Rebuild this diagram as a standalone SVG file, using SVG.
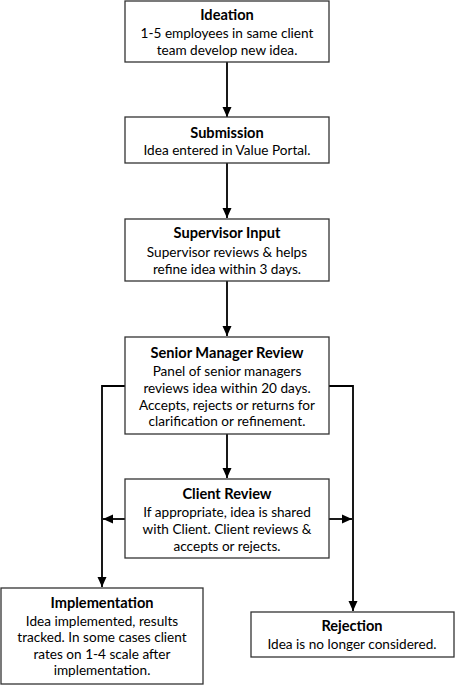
<svg xmlns="http://www.w3.org/2000/svg" width="455" height="685" viewBox="0 0 455 685">
<defs>
<marker id="ah" markerWidth="10" markerHeight="12" refX="10" refY="6" orient="auto" markerUnits="userSpaceOnUse">
<path d="M0,1.5 L10,6 L0,10.5 Z" fill="#000"/>
</marker>
</defs>
<style>
rect{fill:#fff;stroke:#333;stroke-width:1.3}
text{font-family:Lato,"Liberation Sans",sans-serif;font-size:13.6px;fill:#000;text-anchor:middle}
.t{font-weight:bold;font-size:14.6px}
.c{fill:none;stroke:#000;stroke-width:1.8}
</style>
<rect x="0" y="0" width="455" height="685" style="fill:#fff;stroke:none"/>
<g id="connectors">
<line class="c" x1="227" y1="62" x2="227" y2="117" marker-end="url(#ah)"/>
<line class="c" x1="227" y1="163" x2="227" y2="218" marker-end="url(#ah)"/>
<line class="c" x1="227" y1="281" x2="227" y2="336" marker-end="url(#ah)"/>
<line class="c" x1="227" y1="434" x2="227" y2="478" marker-end="url(#ah)"/>
<polyline class="c" points="125,386 102,386 102,587" marker-end="url(#ah)"/>
<polyline class="c" points="329,386 353,386 353,611" marker-end="url(#ah)"/>
<line class="c" x1="125" y1="519" x2="103" y2="519" marker-end="url(#ah)"/>
<line class="c" x1="329" y1="519" x2="352" y2="519" marker-end="url(#ah)"/>
</g>
<g id="ideation">
<rect x="125" y="1" width="204" height="61"/>
<text x="227" y="20" class="t">Ideation</text>
<text x="227" y="38">1-5 employees in same client</text>
<text x="227" y="55">team develop new idea.</text>
</g>
<g id="submission">
<rect x="125" y="117" width="204" height="46"/>
<text x="227" y="138" class="t">Submission</text>
<text x="227" y="155">Idea entered in Value Portal.</text>
</g>
<g id="supervisor">
<rect x="125" y="219" width="204" height="62"/>
<text x="227" y="238" class="t">Supervisor Input</text>
<text x="227" y="257">Supervisor reviews &amp; helps</text>
<text x="227" y="274">refine idea within 3 days.</text>
</g>
<g id="senior">
<rect x="125" y="337" width="204" height="97"/>
<text x="227" y="358" class="t">Senior Manager Review</text>
<text x="227" y="376">Panel of senior managers</text>
<text x="227" y="393">reviews idea within 20 days.</text>
<text x="227" y="410">Accepts, rejects or returns for</text>
<text x="227" y="426">clarification or refinement.</text>
</g>
<g id="client">
<rect x="125" y="479" width="204" height="79"/>
<text x="227" y="499" class="t">Client Review</text>
<text x="227" y="517">If appropriate, idea is shared</text>
<text x="227" y="534">with Client. Client reviews &amp;</text>
<text x="227" y="551">accepts or rejects.</text>
</g>
<g id="implementation">
<rect x="1" y="588" width="202" height="96"/>
<text x="102" y="608" class="t">Implementation</text>
<text x="102" y="626">Idea implemented, results</text>
<text x="102" y="642">tracked. In some cases client</text>
<text x="102" y="659">rates on 1-4 scale after</text>
<text x="102" y="675">implementation.</text>
</g>
<g id="rejection">
<rect x="251" y="612" width="203" height="45"/>
<text x="352" y="631" class="t">Rejection</text>
<text x="352" y="649">Idea is no longer considered.</text>
</g>
</svg>
